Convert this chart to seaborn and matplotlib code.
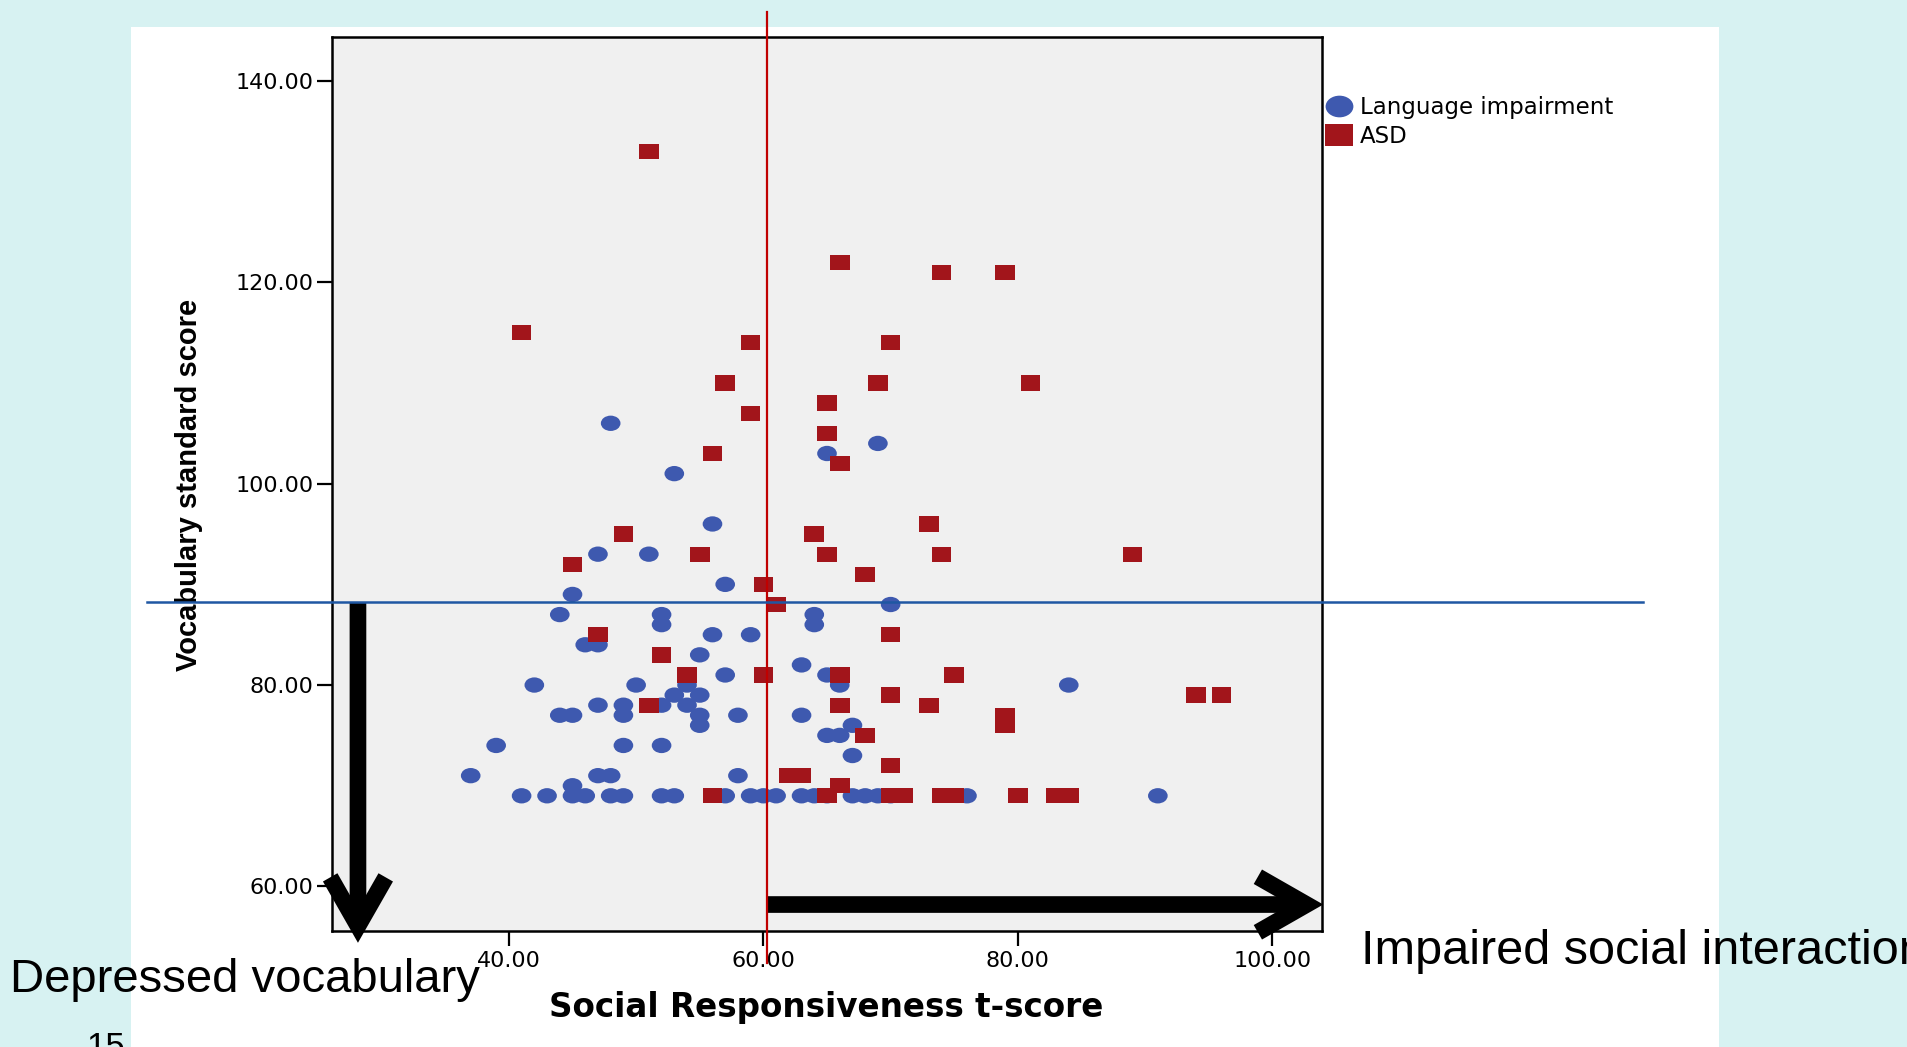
import numpy as np
import pandas as pd
import matplotlib
matplotlib.use("Agg")
import matplotlib.pyplot as plt
import seaborn as sns
from matplotlib.path import Path
from matplotlib.lines import Line2D
from matplotlib import font_manager
import matplotlib.patches as mpatches
import matplotlib.transforms as mtransforms
from matplotlib.ticker import FormatStrFormatter

# ---------------- data ----------------
groups = ["Language impairment", "ASD"]

li_x = [48, 53, 69, 65, 56, 47, 51, 57, 45, 70, 44, 52, 52, 64, 64, 56, 59, 46, 47, 55,
        63, 57, 65, 42, 50, 54, 66, 84, 53, 55, 47, 49, 52, 54, 44, 45, 49, 55, 58, 63,
        55, 67, 65, 66, 39, 49, 52, 67, 37, 47, 48, 58, 45,
        41, 43, 45, 46, 48, 49, 52, 53, 57, 59, 60, 61, 63, 64, 65, 67, 68, 69, 70, 76, 91]
li_y = [106, 101, 104, 103, 96, 93, 93, 90, 89, 88, 87, 87, 86, 87, 86, 85, 85, 84, 84, 83,
        82, 81, 81, 80, 80, 80, 80, 80, 79, 79, 78, 78, 78, 78, 77, 77, 77, 77, 77, 77,
        76, 76, 75, 75, 74, 74, 74, 73, 71, 71, 71, 71, 70,
        69, 69, 69, 69, 69, 69, 69, 69, 69, 69, 69, 69, 69, 69, 69, 69, 69, 69, 69, 69, 69]

asd_x = [51, 41, 66, 74, 79, 59, 70, 57, 69, 81, 65, 59, 65, 56, 66, 73, 49, 64, 45, 55,
         65, 74, 89, 68, 60, 61, 47, 70, 52, 54, 60, 66, 75, 70, 94, 96, 51, 66, 73, 79,
         79, 68, 70, 62, 63, 66,
         56, 65, 70, 71, 74, 75, 80, 83, 84]
asd_y = [133, 115, 122, 121, 121, 114, 114, 110, 110, 110, 108, 107, 105, 103, 102, 96, 95, 95, 92, 93,
         93, 93, 93, 91, 90, 88, 85, 85, 83, 81, 81, 81, 81, 79, 79, 79, 78, 78, 78, 77,
         76, 75, 72, 71, 71, 70,
         69, 69, 69, 69, 69, 69, 69, 69, 69]

x_ticks = [40, 60, 80, 100]
y_ticks = [60, 80, 100, 120, 140]
x_label = "Social Responsiveness t-score"
y_label = "Vocabulary standard score"
threshold_x = 60.25   # vertical cut-off line
threshold_y = 88.25   # horizontal cut-off line
arrow_down_x = 28.14
arrow_down_end_y = 54.4
arrow_right_y = 58.2
arrow_right_end_x = 104.0

# ---------------- style ----------------
cyan = "#D7F2F2"
blue = "#3E59AF"
red = "#A2151B"

names = {f.name for f in font_manager.fontManager.ttflist}
has_narrow = "Liberation Sans Narrow" in names

W, H = 1908, 1047
fig = plt.figure(figsize=(W / 100, H / 100), dpi=100, facecolor=cyan)

# white slide panel
fig.patches.append(mpatches.Rectangle((131 / W, 0), (1719 - 131) / W, 1 - 27 / H,
                                      transform=fig.transFigure, facecolor="white",
                                      edgecolor="none", zorder=-5))

ax_l, ax_r, ax_t, ax_b = 332, 1322, 36.7, 930.7
ax = fig.add_axes([ax_l / W, 1 - ax_b / H, (ax_r - ax_l) / W, (ax_b - ax_t) / H])
ax.set_facecolor("#F0F0F0")

# custom flattened markers
circ = Path.unit_circle()
ellipse = Path(circ.vertices * np.array([1.0, 0.78]), circ.codes)
rect = Path([(-1, -0.78), (1, -0.78), (1, 0.78), (-1, 0.78), (-1, -0.78)],
            [Path.MOVETO, Path.LINETO, Path.LINETO, Path.LINETO, Path.CLOSEPOLY])

df = pd.DataFrame({
    "srs": li_x + asd_x,
    "vocab": li_y + asd_y,
    "group": [groups[0]] * len(li_x) + [groups[1]] * len(asd_x),
})

sns.scatterplot(data=df, x="srs", y="vocab", hue="group", style="group",
                hue_order=groups, style_order=groups,
                palette={groups[0]: blue, groups[1]: red},
                markers={groups[0]: ellipse, groups[1]: rect},
                s=200, linewidth=0, edgecolor="none", alpha=1,
                legend=False, ax=ax, zorder=3)

ax.set_xlim(26.1, 103.9)
ax.set_ylim(55.6, 144.4)
ax.set_xticks(x_ticks)
ax.set_yticks(y_ticks)
ax.xaxis.set_major_formatter(FormatStrFormatter("%.2f"))
ax.yaxis.set_major_formatter(FormatStrFormatter("%.2f"))
for sp in ax.spines.values():
    sp.set_linewidth(1.8)
    sp.set_color("black")
ax.tick_params(axis="both", direction="out", length=10.5, width=1.6, color="black",
               labelsize=16, labelcolor="black")
ax.tick_params(axis="x", pad=4)
ax.tick_params(axis="y", pad=3)
for lab in ax.get_xticklabels() + ax.get_yticklabels():
    lab.set_family("DejaVu Sans")

ax.set_xlabel(x_label, fontsize=23.5, fontweight="bold", family="DejaVu Sans")
if has_narrow:
    ax.set_ylabel(y_label, fontsize=26, fontweight="bold", family="Liberation Sans Narrow")
else:
    ax.set_ylabel(y_label, fontsize=21, fontweight="bold", family="Liberation Sans")
ax.xaxis.label.set_va("center")
ax.yaxis.label.set_va("center")
ax.xaxis.set_label_coords((826 - ax_l) / (ax_r - ax_l), -(1007 - ax_b) / (ax_b - ax_t))
ax.yaxis.set_label_coords(-(ax_l - 189) / (ax_r - ax_l), (ax_b - 484.5) / (ax_b - ax_t))

# reference lines
tr_v = mtransforms.blended_transform_factory(ax.transData, fig.transFigure)
tr_h = mtransforms.blended_transform_factory(fig.transFigure, ax.transData)
ax.plot([threshold_x, threshold_x], [1 - 12 / H, 1 - 963 / H], transform=tr_v,
        color="#C00000", lw=1.6, clip_on=False, zorder=6)
ax.plot([147 / W, 1643 / W], [threshold_y, threshold_y], transform=tr_h,
        color="#1F57A3", lw=1.8, clip_on=False, zorder=6)

# arrows
style = mpatches.ArrowStyle("->", head_length=35, head_width=20)
for a, b in [((arrow_down_x, threshold_y), (arrow_down_x, arrow_down_end_y)),
             ((threshold_x, arrow_right_y), (arrow_right_end_x, arrow_right_y))]:
    arr = mpatches.FancyArrowPatch(a, b, arrowstyle=style, mutation_scale=1,
                                   lw=12, color="black", capstyle="butt",
                                   joinstyle="miter", shrinkA=0, shrinkB=0,
                                   clip_on=False, zorder=5)
    ax.add_patch(arr)

# legend
handles = [Line2D([], [], linestyle="none", marker=ellipse, markersize=20,
                  markerfacecolor=blue, markeredgewidth=0),
           Line2D([], [], linestyle="none", marker=rect, markersize=20,
                  markerfacecolor=red, markeredgewidth=0)]
ax.legend(handles, groups, loc="upper left", bbox_to_anchor=(1328 / W, 1 - 96 / H),
          bbox_transform=fig.transFigure, frameon=False,
          prop={"family": "DejaVu Sans", "size": 16.5},
          handlelength=1.0, handletextpad=0.4, labelspacing=0.28,
          borderpad=0, borderaxespad=0)

# slide annotations
fig.text(10 / W, 1 - 992 / H, "Depressed vocabulary", fontsize=34,
         family="Liberation Sans", ha="left", va="baseline")
fig.text(1361 / W, 1 - 964 / H, "Impaired social interaction", fontsize=35,
         family="Liberation Sans", ha="left", va="baseline")
fig.text(86 / W, 1 - 1031 / H, "15", fontsize=25, family="Liberation Sans",
         ha="left", va="top")

fig.savefig("out.png", dpi=100, facecolor=cyan)
